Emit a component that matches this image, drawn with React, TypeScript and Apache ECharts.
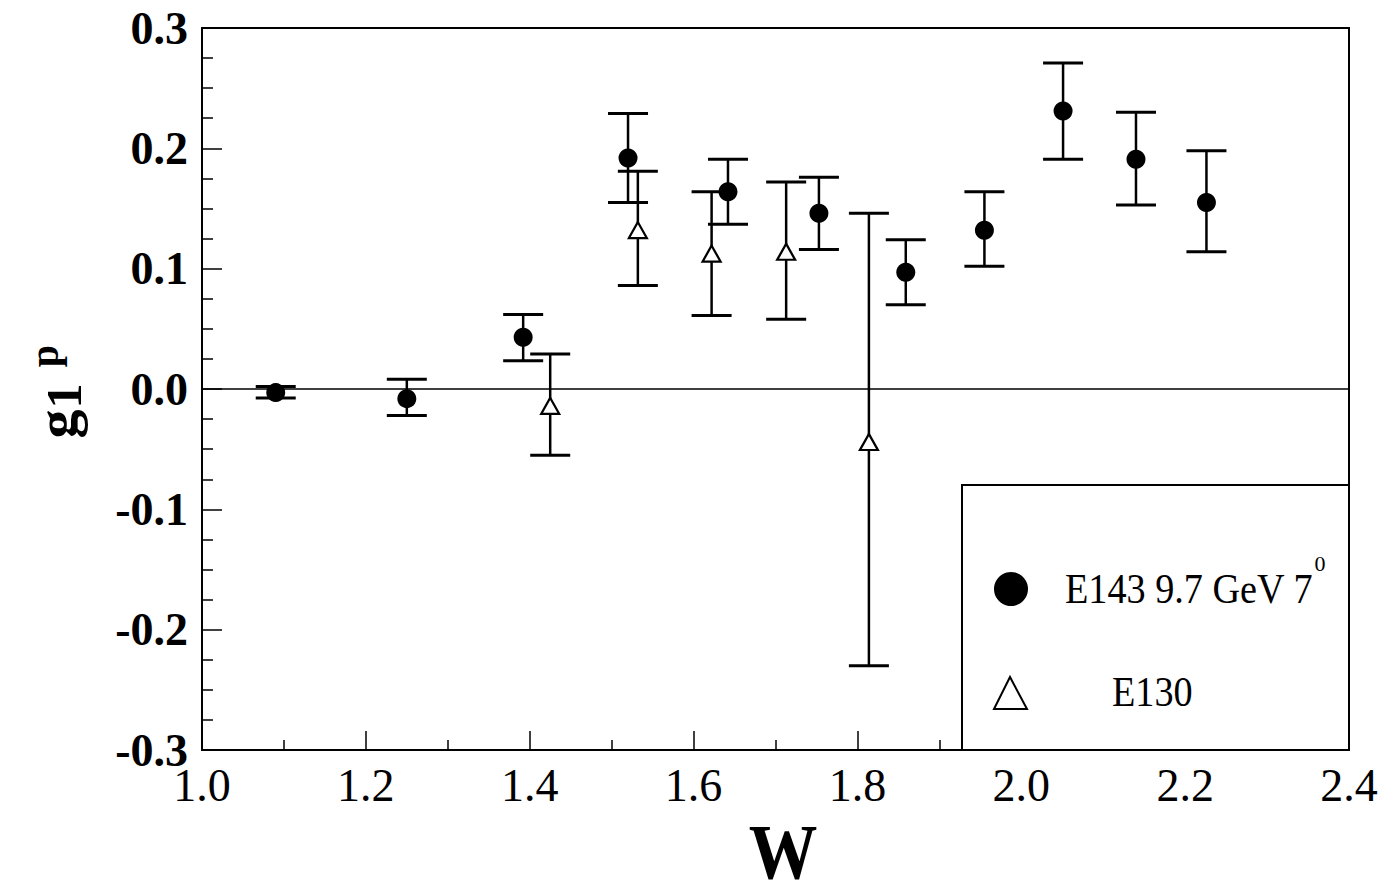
import React, { useEffect, useRef } from "react";
import * as echarts from "echarts";

// E143 9.7 GeV 7° data (filled circles)
const e143W = [1.09, 1.25, 1.392, 1.52, 1.642, 1.753, 1.859, 1.955, 2.051, 2.14, 2.226];
const e143G = [-0.003, -0.008, 0.043, 0.192, 0.164, 0.146, 0.097, 0.132, 0.231, 0.191, 0.155];
const e143Hi = [0.002, 0.008, 0.062, 0.229, 0.191, 0.176, 0.124, 0.164, 0.271, 0.23, 0.198];
const e143Lo = [-0.0075, -0.022, 0.0235, 0.155, 0.137, 0.116, 0.07, 0.102, 0.191, 0.153, 0.114];

// E130 data (open triangles)
const e130W = [1.425, 1.532, 1.622, 1.713, 1.814];
const e130G = [-0.014, 0.132, 0.1125, 0.114, -0.044];
const e130Hi = [0.029, 0.181, 0.164, 0.172, 0.146];
const e130Lo = [-0.055, 0.086, 0.061, 0.058, -0.23];

const xTicks = { min: 1.0, max: 2.4, interval: 0.2 };
const yTicks = { min: -0.3, max: 0.3, interval: 0.1 };

const legendE143 = "E143 9.7 GeV 7";
const legendE143Sup = "0";
const legendE130 = "E130";
const xName = "W";
const yNameMain = "g";
const yNameSub = "1";
const yNameSup = "p";

const FONT = "'Liberation Serif', 'DejaVu Serif', serif";

function errorBarSeries(w: number[], lo: number[], hi: number[], name: string) {
  return {
    type: "custom",
    name,
    z: 2,
    clip: false,
    encode: { x: 0, y: [1, 2] },
    data: w.map((x, i) => [x, lo[i], hi[i]]),
    renderItem: (params: any, api: any) => {
      const x = api.value(0);
      const pLo = api.coord([x, api.value(1)]);
      const pHi = api.coord([x, api.value(2)]);
      const hw = 20;
      const st = { stroke: "#000", lineWidth: 2.5 };
      return {
        type: "group",
        children: [
          { type: "line", shape: { x1: pLo[0], y1: pLo[1], x2: pHi[0], y2: pHi[1] }, style: st },
          { type: "line", shape: { x1: pLo[0] - hw, y1: pLo[1], x2: pLo[0] + hw, y2: pLo[1] }, style: { stroke: "#000", lineWidth: 3 } },
          { type: "line", shape: { x1: pHi[0] - hw, y1: pHi[1], x2: pHi[0] + hw, y2: pHi[1] }, style: { stroke: "#000", lineWidth: 3 } },
        ],
      };
    },
  };
}

export default function App() {
  const ref = useRef<HTMLDivElement>(null);
  useEffect(() => {
    if (!ref.current) return;
    const chart = echarts.init(ref.current, undefined, { renderer: "svg" });
    const rotText = (text: string, x: number, y: number, size: number) => ({
      type: "text",
      z: 101,
      x,
      y,
      rotation: Math.PI / 2,
      style: {
        text,
        font: `bold ${size}px ${FONT}`,
        fill: "#000",
        textAlign: "center",
        textVerticalAlign: "middle",
      },
    });
    const option: any = {
      animation: false,
      backgroundColor: "#fff",
      grid: {
        left: 202,
        right: 47,
        top: 28,
        bottom: 146,
        show: true,
        borderColor: "#000",
        borderWidth: 2,
        backgroundColor: "transparent",
      },
      xAxis: {
        type: "value",
        min: xTicks.min,
        max: xTicks.max,
        interval: xTicks.interval,
        axisLine: { show: true, onZero: false, lineStyle: { color: "#000", width: 2 } },
        axisTick: { show: true, inside: true, length: 19, lineStyle: { color: "#000", width: 1.5 } },
        minorTick: { show: true, splitNumber: 2, length: 10, lineStyle: { color: "#000", width: 1.5 } },
        splitLine: { show: false },
        axisLabel: {
          margin: 12,
          color: "#000",
          fontFamily: FONT,
          fontSize: 46,
          formatter: (v: number) => v.toFixed(1),
        },
      },
      yAxis: {
        type: "value",
        min: yTicks.min,
        max: yTicks.max,
        interval: yTicks.interval,
        axisLine: { show: true, onZero: false, lineStyle: { color: "#000", width: 2 } },
        axisTick: { show: true, inside: true, length: 20, lineStyle: { color: "#000", width: 1.5 } },
        minorTick: { show: true, splitNumber: 4, length: 11, lineStyle: { color: "#000", width: 1.5 } },
        splitLine: { show: false },
        axisLabel: {
          margin: 14,
          color: "#000",
          fontFamily: FONT,
          fontSize: 46,
          fontWeight: "bold",
          formatter: (v: number) => v.toFixed(1),
        },
      },
      series: [
        errorBarSeries(e143W, e143Lo, e143Hi, "E143 err"),
        errorBarSeries(e130W, e130Lo, e130Hi, "E130 err"),
        {
          type: "scatter",
          name: "E143",
          z: 5,
          symbol: "circle",
          symbolSize: 19,
          itemStyle: { color: "#000", opacity: 1 },
          data: e143W.map((x, i) => [x, e143G[i]]),
          markLine: {
            silent: true,
            symbol: "none",
            label: { show: false },
            lineStyle: { color: "#000", width: 1.5, type: "solid" },
            data: [{ yAxis: 0 }],
          },
        },
        {
          type: "scatter",
          name: "E130",
          z: 6,
          symbol: "triangle",
          symbolSize: [18, 16],
          itemStyle: { color: "#fff", borderColor: "#000", borderWidth: 2.2, opacity: 1 },
          data: e130W.map((x, i) => [x, e130G[i]]),
        },
      ],
      graphic: [
        {
          type: "rect",
          z: 100,
          shape: { x: 962, y: 485, width: 387, height: 265 },
          style: { fill: "#fff", stroke: "#000", lineWidth: 2 },
        },
        {
          type: "circle",
          z: 101,
          shape: { cx: 1011, cy: 589, r: 17 },
          style: { fill: "#000" },
        },
        {
          type: "polygon",
          z: 101,
          shape: { points: [[1010, 677], [994, 709], [1027, 709]] },
          style: { fill: "#fff", stroke: "#000", lineWidth: 2 },
        },
        {
          type: "text",
          z: 101,
          x: 1065,
          y: 589,
          scaleX: 0.91,
          style: {
            text: legendE143,
            font: `42px ${FONT}`,
            fill: "#000",
            textAlign: "left",
            textVerticalAlign: "middle",
          },
        },
        {
          type: "text",
          z: 101,
          x: 1320,
          y: 563,
          style: {
            text: legendE143Sup,
            font: `22px ${FONT}`,
            fill: "#000",
            textAlign: "center",
            textVerticalAlign: "middle",
          },
        },
        {
          type: "text",
          z: 101,
          x: 1112,
          y: 692,
          scaleX: 0.91,
          style: {
            text: legendE130,
            font: `42px ${FONT}`,
            fill: "#000",
            textAlign: "left",
            textVerticalAlign: "middle",
          },
        },
        {
          type: "text",
          z: 101,
          x: 783,
          y: 852,
          scaleX: 0.88,
          style: {
            text: xName,
            font: `bold 78px ${FONT}`,
            fill: "#000",
            textAlign: "center",
            textVerticalAlign: "middle",
          },
        },
        rotText(yNameMain, 56, 424, 58),
        rotText(yNameSub, 64, 396, 50),
        rotText(yNameSup, 44, 356, 40),
      ],
    };
    chart.setOption(option);
    return () => chart.dispose();
  }, []);
  return (
    <div
      ref={ref}
      style={{ position: "fixed", left: 0, top: 0, width: 1396, height: 896, background: "#fff" }}
    />
  );
}
